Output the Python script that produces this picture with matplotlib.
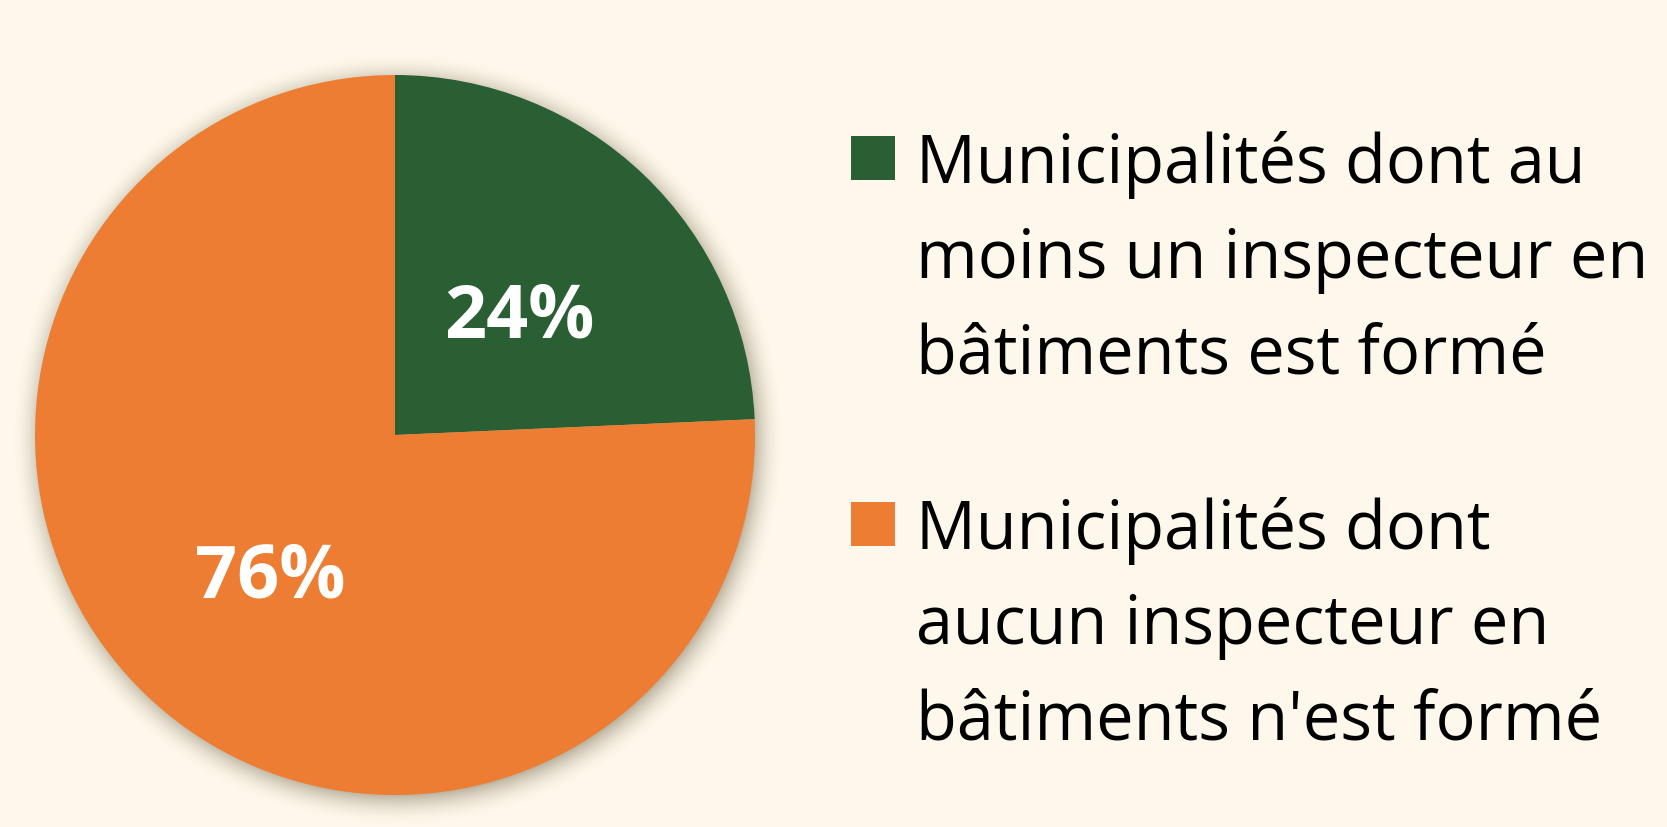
import numpy as np
import matplotlib
matplotlib.use("Agg")
import matplotlib.pyplot as plt
from matplotlib.patches import Rectangle

# données
labels = ["Municipalités dont au\nmoins un inspecteur en\nbâtiments est formé",
          "Municipalités dont\naucun inspecteur en\nbâtiments n'est formé"]
values = [24.3, 75.7]
colors = ["#2a5e33", "#ec7d32"]

bg = "#fdf8eb"
W, H = 1667, 828

fig = plt.figure(figsize=(W / 100, H / 100), dpi=100, facecolor=bg)

# axe du camembert : centre (395, 436) px, rayon 360 px
L = 1.08
side = 2 * L * 360
cx, cy = 395, H - 436
ax = fig.add_axes([(cx - side / 2) / W, (cy - side / 2) / H, side / W, side / H])
ax.set_facecolor(bg)

# ombre douce autour du disque
n = 700
xs = np.linspace(-L, L, n)
X, Y = np.meshgrid(xs, xs)
d = np.hypot(X - 0.008, Y + 0.012)
a = np.clip(1 - (d - 0.985) / 0.09, 0, 1) ** 2 * 0.55
shadow = np.zeros((n, n, 4))
shadow[..., 0] = 0.50
shadow[..., 1] = 0.44
shadow[..., 2] = 0.34
shadow[..., 3] = a
ax.imshow(shadow, extent=[-L, L, -L, L], origin="lower", interpolation="bilinear", zorder=0)

wedges, texts, autotexts = ax.pie(
    values, colors=colors, startangle=90, counterclock=False, radius=1,
    autopct=lambda p: f"{p:.0f}%", pctdistance=0.5,
    wedgeprops=dict(linewidth=0, zorder=2),
    textprops=dict(color="white", fontsize=53, fontweight="bold", family="Open Sans"),
)
for t in autotexts:
    t.set_zorder(3)
    x, y = t.get_position()
    t.set_position((x, y - 0.035))
ax.set_xlim(-L, L)
ax.set_ylim(-L, L)
ax.set_aspect("equal")
ax.axis("off")

# légende manuelle (carré aligné sur la première ligne)
first_base = [183, 549]
marker_top = [137, 503]
step = 95.5
for i, lab in enumerate(labels):
    fig.add_artist(Rectangle((851 / W, (H - marker_top[i] - 44) / H), 44 / W, 44 / H,
                             transform=fig.transFigure, facecolor=colors[i], edgecolor="none"))
    for j, line in enumerate(lab.split("\n")):
        fig.text(916 / W, (H - first_base[i] - j * step) / H, line,
                 fontsize=48, family="Open Sans", color="black", va="baseline", ha="left")

fig.savefig("out.png", dpi=100, facecolor=bg)
